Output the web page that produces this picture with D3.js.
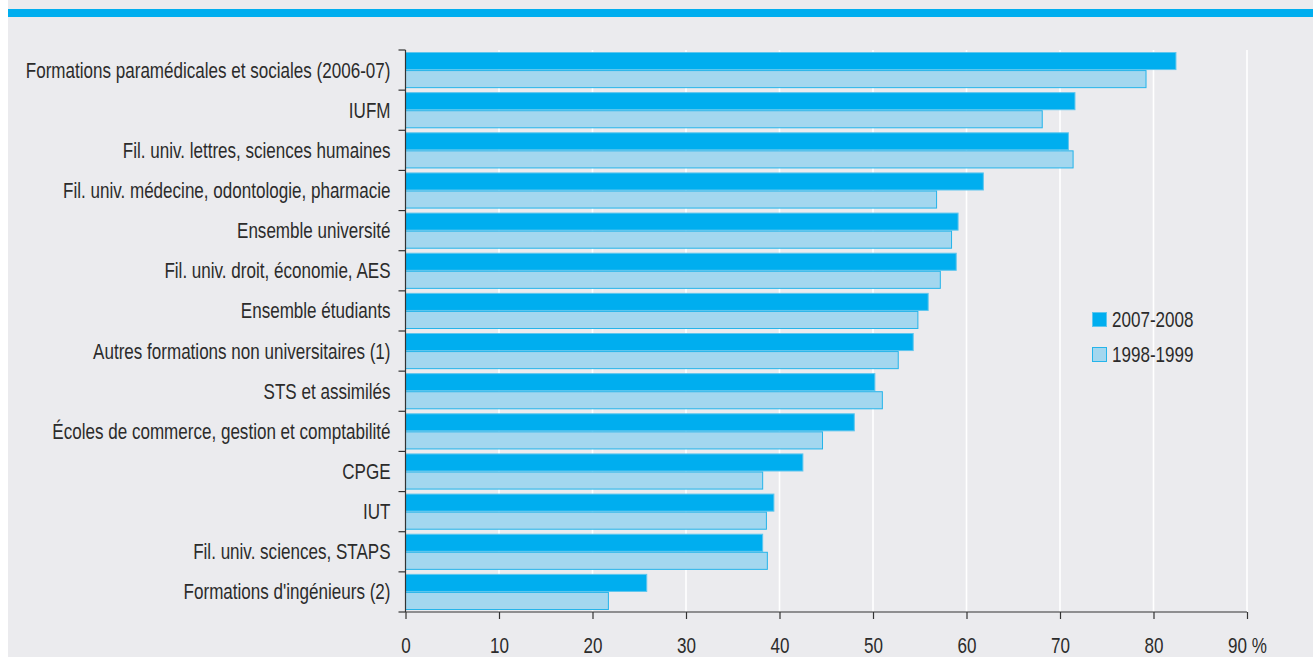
<!DOCTYPE html>
<html><head><meta charset="utf-8">
<script src="https://cdn.jsdelivr.net/npm/d3@7"></script>
<style>
html,body{margin:0;padding:0;background:#fff;}
svg{display:block;}
text{font-family:"Liberation Sans","Arial",sans-serif;fill:#2b2b2b;}
</style></head><body>
<svg id="c" width="1313" height="657"></svg>
<script>
const categories = [
  "Formations paramédicales et sociales (2006-07)",
  "IUFM",
  "Fil. univ. lettres, sciences humaines",
  "Fil. univ. médecine, odontologie, pharmacie",
  "Ensemble université",
  "Fil. univ. droit, économie, AES",
  "Ensemble étudiants",
  "Autres formations non universitaires (1)",
  "STS et assimilés",
  "Écoles de commerce, gestion et comptabilité",
  "CPGE",
  "IUT",
  "Fil. univ. sciences, STAPS",
  "Formations d'ingénieurs (2)"
];
const values2007 = [82.4, 71.6, 70.9, 61.8, 59.1, 58.9, 55.9, 54.3, 50.2, 48.0, 42.5, 39.4, 38.2, 25.8];
const values1998 = [79.2, 68.1, 71.4, 56.8, 58.4, 57.2, 54.8, 52.7, 51.0, 44.6, 38.2, 38.6, 38.7, 21.7];
const seriesNames = ["2007-2008", "1998-1999"];
const tickValues = [0, 10, 20, 30, 40, 50, 60, 70, 80, 90];
const tickLabels = ["0", "10", "20", "30", "40", "50", "60", "70", "80", "90 %"];

const svg = d3.select("#c");
const colDark = "#00aeef", colLight = "#a3d7ef";
const strokeDark = "#5fc6ee", strokeLight = "#25b4ea";
const FS = 21.5;

svg.append("rect").attr("x", 8).attr("y", 0).attr("width", 1305).attr("height", 657).attr("fill", "#ebebee");
svg.append("rect").attr("x", 8).attr("y", 9).attr("width", 1305).attr("height", 8).attr("fill", colDark);

const x = d3.scaleLinear().domain([0, 90]).range([405.5, 1247]);
const y = d3.scaleBand().domain(categories).range([50, 612]).paddingInner(0).paddingOuter(0);
const sub = d3.scaleBand().domain(seriesNames).range([2, y.bandwidth() - 2]);

// measure condensing factor
const probe = svg.append("text").attr("font-size", FS).text(categories[0]);
const SX = 365 / probe.node().getComputedTextLength();
probe.remove();

// gridlines
svg.append("g").selectAll("line").data(tickValues.slice(1)).join("line")
  .attr("x1", d => x(d)).attr("x2", d => x(d)).attr("y1", 50).attr("y2", 612)
  .attr("stroke", "#ffffff").attr("stroke-width", 1.6);

const rows = categories.map((c, i) => ({c, v: [values2007[i], values1998[i]]}));
const g = svg.append("g");
rows.forEach(r => {
  seriesNames.forEach((s, j) => {
    g.append("rect")
      .attr("x", x(0))
      .attr("y", y(r.c) + sub(s) + 0.5)
      .attr("width", x(r.v[j]) - x(0))
      .attr("height", sub.bandwidth() - 1)
      .attr("fill", j === 0 ? colDark : colLight)
      .attr("stroke", j === 0 ? strokeDark : strokeLight)
      .attr("stroke-width", 1);
  });
});

// y axis
const yAxis = svg.append("g").attr("transform", `translate(${x(0)},0)`);
yAxis.append("line").attr("x1", 0).attr("x2", 0).attr("y1", 50).attr("y2", 612).attr("stroke", "#333").attr("stroke-width", 1.2);
const yTicks = d3.range(categories.length + 1).map(i => 50 + i * y.step());
yAxis.selectAll("line.t").data(yTicks).join("line").attr("class", "t")
  .attr("x1", -7).attr("x2", 0).attr("y1", d => d).attr("y2", d => d)
  .attr("stroke", "#333").attr("stroke-width", 1.2);
yAxis.selectAll("text").data(categories).join("text")
  .attr("transform", d => `translate(-15,${y(d) + y.bandwidth() / 2}) scale(${SX},1)`)
  .attr("dy", "0.35em").attr("text-anchor", "end").attr("font-size", FS)
  .text(d => d);

// x axis
const xAxis = svg.append("g").attr("transform", `translate(0,612)`)
  .call(d3.axisBottom(x).tickValues(tickValues).tickSize(7).tickPadding(19)
    .tickFormat((d, i) => tickLabels[i]));
xAxis.select(".domain").attr("stroke", "#333").attr("stroke-width", 1.2).attr("d", `M${x(0)},0H${x(90)}`);
xAxis.selectAll(".tick line").attr("stroke", "#333").attr("stroke-width", 1.2);
xAxis.selectAll(".tick text").attr("font-size", FS).attr("font-family", null).attr("fill", "#2b2b2b")
  .attr("y", null).attr("dy", null)
  .attr("transform", `translate(0,41) scale(${SX},1)`);

// legend
const legend = svg.append("g").attr("transform", "translate(1092,312)");
seriesNames.forEach((s, i) => {
  const lg = legend.append("g").attr("transform", `translate(0,${i * 35})`);
  lg.append("rect").attr("x", 0.5).attr("y", 0.5).attr("width", 14).attr("height", 14)
    .attr("fill", i === 0 ? colDark : colLight).attr("stroke", i === 0 ? strokeDark : strokeLight);
  lg.append("text").attr("transform", `translate(20,15) scale(${SX},1)`).attr("font-size", FS).text(s);
});
</script>
</body></html>
